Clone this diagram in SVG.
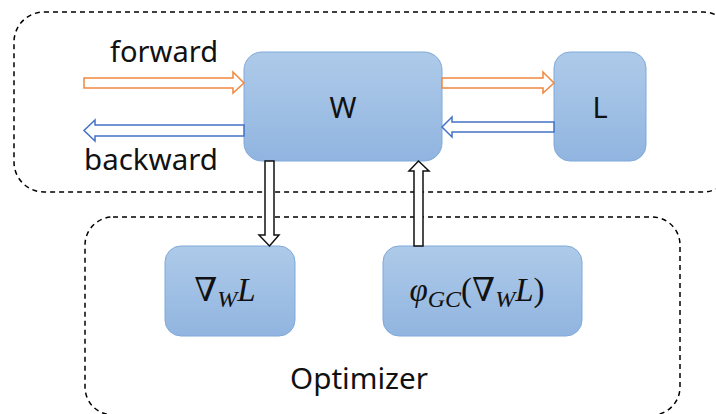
<svg xmlns="http://www.w3.org/2000/svg" width="716" height="414" viewBox="0 0 716 414">
<defs>
<linearGradient id="g" x1="0" y1="0" x2="0" y2="1">
<stop offset="0" stop-color="#aecae9"/>
<stop offset="1" stop-color="#91b5e0"/>
</linearGradient>
</defs>
<style>
.box{fill:none;stroke:#000;stroke-width:1.5;stroke-dasharray:5 4}
.node{fill:url(#g);stroke:#7fa9da;stroke-width:1}
.lbl{font-family:"Noto Sans","Liberation Sans",sans-serif;font-size:29px;fill:#111}
.math{font-family:"Liberation Serif","DejaVu Serif",serif;font-size:33px;fill:#111;font-style:italic}
.or{fill:#fff;stroke:#f0883e;stroke-width:1.5}
.bl{fill:#fff;stroke:#4472c4;stroke-width:1.5}
.bk{fill:#fff;stroke:#111;stroke-width:1.5}
</style>
<rect class="box" x="14" y="12" width="719" height="180" rx="30"/>
<rect class="box" x="85" y="217" width="595" height="198" rx="28"/>
<text class="lbl" x="164" y="62" text-anchor="middle" textLength="108" lengthAdjust="spacingAndGlyphs">forward</text>
<text class="lbl" x="151" y="170" text-anchor="middle" textLength="134" lengthAdjust="spacingAndGlyphs">backward</text>
<text class="lbl" x="359" y="389" text-anchor="middle" textLength="138" lengthAdjust="spacingAndGlyphs">Optimizer</text>
<g id="W"><rect class="node" x="244" y="52" width="198" height="109" rx="18"/><text class="lbl" x="343" y="118" text-anchor="middle">W</text></g>
<g id="L"><rect class="node" x="554" y="52" width="92" height="109" rx="16"/><text class="lbl" x="600" y="118" text-anchor="middle">L</text></g>
<g id="grad"><rect class="node" x="165" y="246" width="130" height="90" rx="16"/><text class="math" x="225" y="301" text-anchor="middle"><tspan font-style="normal">∇</tspan><tspan font-size="24" dy="6">W</tspan><tspan dy="-6">L</tspan></text></g>
<g id="phi"><rect class="node" x="383" y="246" width="199" height="90" rx="16"/><text class="math" x="477" y="301" text-anchor="middle">φ<tspan font-size="24" dy="6">GC</tspan><tspan dy="-6" font-style="normal">(∇</tspan><tspan font-size="24" dy="6">W</tspan><tspan dy="-6">L</tspan><tspan font-style="normal">)</tspan></text></g>
<g id="connectors">
<polygon class="or" points="84,78 233,78 233,72 244,83 233,93 233,88 84,88"/>
<polygon class="bl" points="244,125 95,125 95,120 84,130.5 95,141 95,136 244,136"/>
<polygon class="or" points="442,78 543,78 543,72 554,83 543,93 543,88 442,88"/>
<polygon class="bl" points="554,122 452,122 452,117 442,127 452,137 452,132 554,132"/>
<polygon class="bk" points="265,161 274,161 274,235 279,235 269.5,246 259,235 265,235"/>
<polygon class="bk" points="414,246 423,246 423,171 429,171 418.5,161 409,171 414,171"/>
</g>
</svg>
